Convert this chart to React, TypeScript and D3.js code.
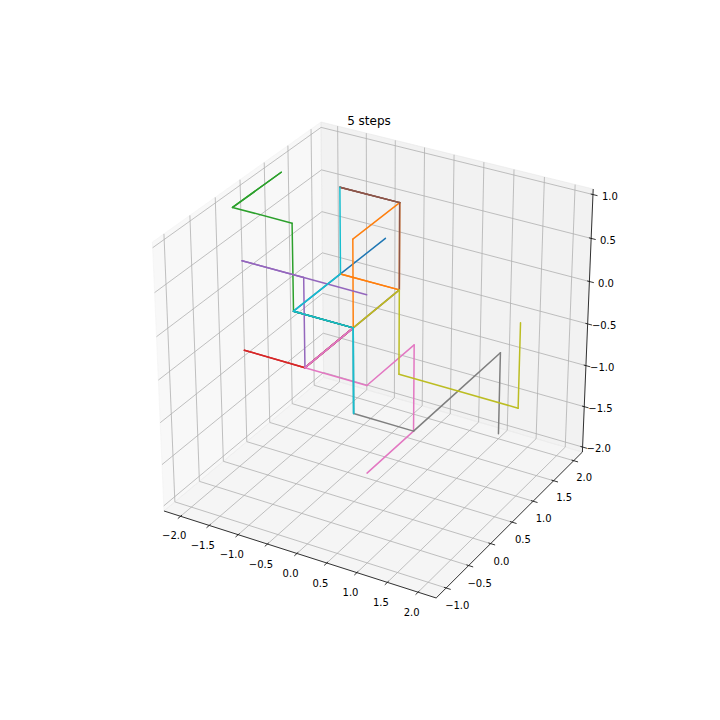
import React from "react";
import * as d3 from "d3";

type P3 = [number, number, number];

const title = "5 steps";
const xTicks = [-2, -1.5, -1, -0.5, 0, 0.5, 1, 1.5, 2];
const yTicks = [-1, -0.5, 0, 0.5, 1, 1.5, 2];
const zTicks = [-2, -1.5, -1, -0.5, 0, 0.5, 1];
const xLim: [number, number] = [-2.2, 2.2];
const yLim: [number, number] = [-1.15, 2.15];
const zLim: [number, number] = [-2, 1];

const walkBlue: P3[] = [[0,0,0],[-1,0,0],[0,0,0],[-1,0,0],[-1,1,0],[-1,2,0]];
const walkOrange: P3[] = [[0,0,0],[0,0,1],[0,1,1],[0,1,0],[-1,1,0],[0,1,0]];
const walkGreen: P3[] = [[0,0,0],[-1,0,0],[-1,0,1],[-2,0,1],[-2,1,1],[-2,0,1]];
const walkRed: P3[] = [[0,0,0],[0,-1,0],[0,0,0],[0,-1,0],[-1,-1,0],[0,-1,0]];
const walkPurple: P3[] = [[0,0,0],[0,-1,0],[0,-1,1],[-1,-1,1],[0,-1,1],[1,-1,1]];
const walkBrown: P3[] = [[0,0,0],[0,1,0],[0,1,1],[-1,1,1],[0,1,1],[-1,1,1]];
const walkPink: P3[] = [[0,0,0],[0,-1,0],[1,-1,0],[1,0,0],[1,0,-1],[1,-1,-1]];
const walkGrey: P3[] = [[0,0,0],[0,0,-1],[1,0,-1],[1,1,-1],[1,2,-1],[1,2,-2]];
const walkOlive: P3[] = [[0,0,0],[0,1,0],[0,1,-1],[1,1,-1],[2,1,-1],[2,1,0]];
const walkCyan: P3[] = [[0,0,0],[0,0,-1],[0,0,0],[-1,0,0],[-1,1,0],[-1,1,1]];

const walks = [walkBlue, walkOrange, walkGreen, walkRed, walkPurple, walkBrown, walkPink, walkGrey, walkOlive, walkCyan];
const colors = ["#1f77b4","#ff7f0e","#2ca02c","#d62728","#9467bd","#8c564b","#e377c2","#7f7f7f","#bcbd22","#17becf"];

// matplotlib's default 3D camera
const elev = (30 * Math.PI) / 180;
const azim = (-60 * Math.PI) / 180;
const dist = 10;
const n: P3 = [Math.cos(elev) * Math.cos(azim), Math.cos(elev) * Math.sin(azim), Math.sin(elev)];
const uLen = Math.hypot(n[1], n[0]);
const u: P3 = [-n[1] / uLen, n[0] / uLen, 0];
const v: P3 = [
  n[1] * u[2] - n[2] * u[1],
  n[2] * u[0] - n[0] * u[2],
  n[0] * u[1] - n[1] * u[0],
];
const dot = (a: P3, b: P3) => a[0] * b[0] + a[1] * b[1] + a[2] * b[2];

const sx = d3.scaleLinear().domain(xLim).range([0, 1]);
const sy = d3.scaleLinear().domain(yLim).range([0, 1]);
const sz = d3.scaleLinear().domain(zLim).range([0, 1]);
const viewX = d3.scaleLinear().domain([-0.95 / dist, 0.9 / dist]).range([90, 648]);
const viewY = d3.scaleLinear().domain([-0.95 / dist, 0.9 / dist]).range([631.4, 86.4]);

const project = (p: P3): [number, number] => {
  const r: P3 = [sx(p[0]) - 0.5, sy(p[1]) - 0.5, sz(p[2]) - 0.5];
  const w = dist - dot(n, r);
  return [viewX(dot(u, r) / w), viewY(dot(v, r) / w)];
};

const lineGen = d3.line<P3>().x((d) => project(d)[0]).y((d) => project(d)[1]);

// box used for panes and edges
const dx = (xLim[1] - xLim[0]) / 12;
const dy = (yLim[1] - yLim[0]) / 12;
const dz = (zLim[1] - zLim[0]) / 12;
const x0 = xLim[0] - dx / 4, x1 = xLim[1] + dx / 4;
const y0 = yLim[0] - dy / 4, y1 = yLim[1] + dy / 4;
const z0 = zLim[0] - dz / 4, z1 = zLim[1] + dz / 4;

const panes: { pts: P3[]; shade: number }[] = [
  { pts: [[x0,y0,z0],[x0,y1,z0],[x0,y1,z1],[x0,y0,z1]], shade: 0.95 },
  { pts: [[x0,y1,z0],[x1,y1,z0],[x1,y1,z1],[x0,y1,z1]], shade: 0.9 },
  { pts: [[x0,y0,z0],[x1,y0,z0],[x1,y1,z0],[x0,y1,z0]], shade: 0.925 },
];

const gridLines: P3[][] = [
  ...xTicks.map((t): P3[] => [[t,y0,z0],[t,y1,z0],[t,y1,z1]]),
  ...yTicks.map((t): P3[] => [[x1,t,z0],[x0,t,z0],[x0,t,z1]]),
  ...zTicks.map((t): P3[] => [[x0,y0,t],[x0,y1,t],[x1,y1,t]]),
];

const axisLines: P3[][] = [
  [[x0,y0,z0],[x1,y0,z0]],
  [[x1,y0,z0],[x1,y1,z0]],
  [[x1,y1,z0],[x1,y1,z1]],
];

const tickMarks: P3[][] = [
  ...xTicks.map((t): P3[] => [[t,y0+0.1*dy,z0],[t,y0-0.2*dy,z0]]),
  ...yTicks.map((t): P3[] => [[x1-0.1*dx,t,z0],[x1+0.2*dx,t,z0]]),
  ...zTicks.map((t): P3[] => [[x1-0.1*dx,y1,t],[x1+0.2*dx,y1,t]]),
];

// label offset as matplotlib derives it from the axes size
const labelFactor = ((3.5 + 8) * 48) / (558 + 554.4);
const fmt = (t: number) => t.toFixed(1).replace("-", "\u2212");
const tickLabels: { pos: P3; text: string }[] = [
  ...xTicks.map((t) => ({ pos: [t, y0 - labelFactor * dy, z0 - labelFactor * dz] as P3, text: fmt(t) })),
  ...yTicks.map((t) => ({ pos: [x1 + labelFactor * dx, t, z0 - labelFactor * dz] as P3, text: fmt(t) })),
  ...zTicks.map((t) => ({ pos: [x1 + labelFactor * dx, y1 + labelFactor * dy, t] as P3, text: fmt(t) })),
];

const fontFamily = "'DejaVu Sans', sans-serif";

export default function App() {
  return (
    <svg
      width={720}
      height={720}
      viewBox="0 0 720 720"
      style={{ position: "absolute", left: 0, top: 0, display: "block", background: "#fff" }}
    >
      {panes.map((p, i) => {
        const c = d3.rgb(p.shade * 255, p.shade * 255, p.shade * 255).toString();
        const d = lineGen(p.pts) + "Z";
        return (
          <g key={i}>
            <path d={d} fill={c} fillOpacity={0.5} stroke="none" />
            <path d={d} fill="none" stroke={c} strokeOpacity={0.5} strokeWidth={1} />
          </g>
        );
      })}
      {axisLines.map((l, i) => (
        <path key={i} d={lineGen(l) ?? ""} fill="none" stroke="#000" strokeWidth={0.8} />
      ))}
      {gridLines.map((l, i) => (
        <path key={i} d={lineGen(l) ?? ""} fill="none" stroke="#b0b0b0" strokeWidth={0.8} />
      ))}
      {tickMarks.map((l, i) => (
        <path key={i} d={lineGen(l) ?? ""} fill="none" stroke="#000" strokeWidth={0.8} />
      ))}
      {tickLabels.map((l, i) => {
        const [px, py] = project(l.pos);
        return (
          <text key={i} x={px} y={py + 7.3} textAnchor="middle" fontSize={10} fontFamily={fontFamily} fill="#000">
            {l.text}
          </text>
        );
      })}
      {walks.map((w, i) => (
        <g key={i} fill="none" stroke={colors[i]} strokeWidth={1.5} strokeLinecap="round">
          {d3.pairs(w).map((seg, j) => (
            <path key={j} d={lineGen(seg) ?? ""} />
          ))}
        </g>
      ))}
      <text x={369} y={124.7} textAnchor="middle" fontSize={12} fontFamily={fontFamily} fill="#000">
        {title}
      </text>
    </svg>
  );
}
